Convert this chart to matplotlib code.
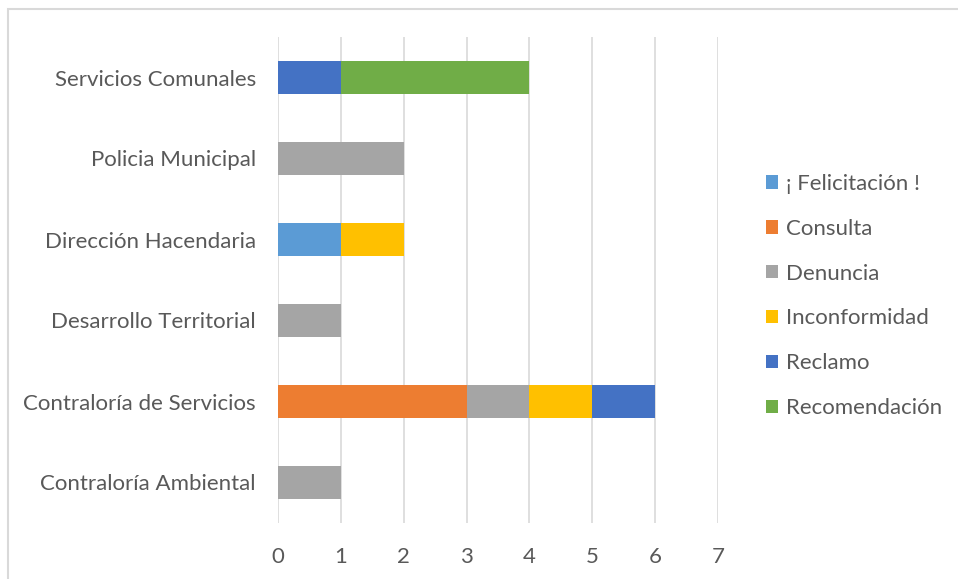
import matplotlib
matplotlib.use("Agg")
import matplotlib.pyplot as plt
from matplotlib.patches import Rectangle
import numpy as np

plt.rcParams['font.family'] = ['Lato', 'DejaVu Sans']

categories = ["Contraloría Ambiental", "Contraloría de Servicios", "Desarrollo Territorial",
              "Dirección Hacendaria", "Policia Municipal", "Servicios Comunales"]
series = ["¡ Felicitación !", "Consulta", "Denuncia", "Inconformidad", "Reclamo", "Recomendación"]
felicitacion = [0, 0, 0, 1, 0, 0]
consulta = [0, 3, 0, 0, 0, 0]
denuncia = [1, 1, 1, 0, 2, 0]
inconformidad = [0, 1, 0, 1, 0, 0]
reclamo = [0, 1, 0, 0, 0, 1]
recomendacion = [0, 0, 0, 0, 0, 3]
colors = ["#5B9BD5", "#ED7D31", "#A5A5A5", "#FFC000", "#4472C4", "#70AD47"]
values = [felicitacion, consulta, denuncia, inconformidad, reclamo, recomendacion]

fig = plt.figure(figsize=(9.58, 5.79), dpi=100)
ax = fig.add_axes([278/958, 1-523/579, 440/958, 486/579])
y = np.arange(len(categories))
left = np.zeros(len(categories))
for name, vals, c in zip(series, values, colors):
    v = np.array(vals, dtype=float)
    ax.barh(y, v, left=left, height=0.41, color=c, label=name, zorder=3)
    left += v

ax.set_xlim(0, 7)
ax.set_ylim(-0.5, len(categories)-0.5)
ax.set_xticks(range(0, 8))
ax.set_yticks(y)
ax.set_yticklabels(categories)
ax.grid(axis='x', color='#D9D9D9', linewidth=1.2, zorder=0)
for s in ax.spines.values():
    s.set_visible(False)
ax.tick_params(axis='both', length=0, labelsize=16, labelcolor='#595959')
ax.tick_params(axis='x', pad=17)
ax.tick_params(axis='y', pad=16)

leg = ax.legend(loc='center left', bbox_to_anchor=(766/958, 1-296/579),
                bbox_transform=fig.transFigure, frameon=False, borderpad=0, borderaxespad=0,
                fontsize=16, labelcolor='#595959', handlelength=0.55, handleheight=0.55,
                handletextpad=0.35, labelspacing=1.12)

fig.patches.append(Rectangle((8/958, -0.1), 1.1, 1-9/579+0.1, transform=fig.transFigure,
                             fill=False, edgecolor='#D9D9D9', linewidth=1.5))
fig.savefig("out.png", dpi=100)
